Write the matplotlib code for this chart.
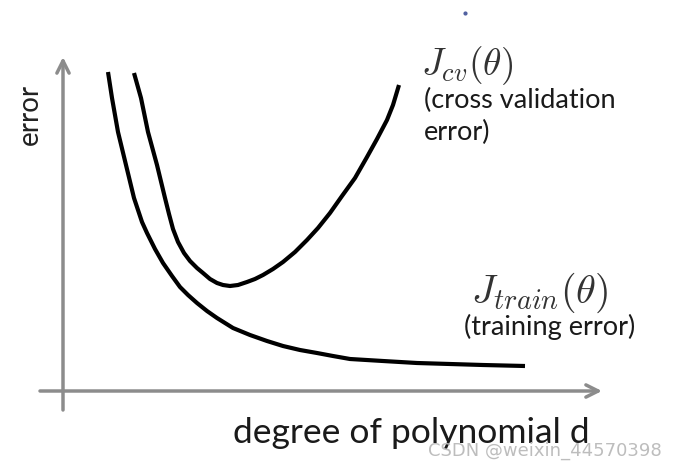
import matplotlib.pyplot as plt

# Curvas (coordenadas en pixeles, y hacia abajo)
train_x = [108, 112, 118, 126, 134, 142, 147, 155, 163, 172, 180, 188, 197, 207, 217,
           233, 250, 267, 283, 300, 317, 333, 350, 383, 417, 450, 483, 525]
train_y = [72, 98, 132, 165, 198, 222, 233, 249, 263, 276, 287, 295, 303, 311, 318,
           328, 335, 341, 346, 350, 353, 356, 359, 361, 363, 364, 365, 366]

cv_x = [134, 141, 148, 157, 165, 169, 173, 178, 184, 190, 197, 203, 210, 217, 223, 230, 238,
        247, 255, 263, 273, 283, 295, 307, 318, 330, 342, 355, 367, 377, 387, 393, 399]
cv_y = [73, 98, 132, 165, 198, 214, 229, 242, 253, 261, 268, 273, 279, 283, 285, 286, 285,
        282, 279, 275, 269, 262, 252, 240, 228, 213, 196, 178, 157, 139, 120, 105, 85]

# Ejes dibujados a mano: (inicio, fin) de cada flecha
y_arrow = [(63, 410), (63, 57)]
x_arrow = [(40, 391), (602, 391)]

fig = plt.figure(figsize=(6.77, 4.69), dpi=100)
ax = fig.add_axes([0, 0, 1, 1])
ax.set_xlim(0, 677)
ax.set_ylim(469, 0)
ax.axis("off")

axis_gray = "#8c8c8c"
for start, end in (y_arrow, x_arrow):
    ax.annotate("", xy=end, xytext=start,
                arrowprops=dict(arrowstyle="->", color=axis_gray, lw=2.5,
                                mutation_scale=22, shrinkA=0, shrinkB=0))

ax.plot(train_x, train_y, color="black", linewidth=3,
        solid_capstyle="butt", solid_joinstyle="round")
ax.plot(cv_x, cv_y, color="black", linewidth=3,
        solid_capstyle="butt", solid_joinstyle="round")

# Textos
font = "Lato"
plt.rcParams["mathtext.fontset"] = "cm"
ax.text(30, 114, "error", rotation=90, fontsize=20, family=font,
        ha="center", va="center", color="#222222")
ax.text(233, 433, "degree of polynomial d", fontsize=25.5, family=font,
        ha="left", va="center", color="#1a1a1a")

ax.text(421, 66, r"$J_{cv}(\theta)$", fontsize=27, ha="left", va="center", color="#333333")
ax.text(424, 100, "(cross validation", fontsize=19.5, family=font,
        ha="left", va="center", color="#1a1a1a")
ax.text(424, 132, "error)", fontsize=19.5, family=font,
        ha="left", va="center", color="#1a1a1a")

ax.text(471, 293, r"$J_{train}(\theta)$", fontsize=29, ha="left", va="center", color="#333333")
ax.text(464, 327, "(training error)", fontsize=19.5, family=font,
        ha="left", va="center", color="#1a1a1a")

ax.text(428, 451, "CSDN @weixin_44570398", fontsize=13, family="DejaVu Sans",
        ha="left", va="center", color="#bdbdbd")

# pequena marca azul arriba
ax.plot([465], [13], marker="o", markersize=2, color="#5060a0")

fig.savefig("out.png", dpi=100)
